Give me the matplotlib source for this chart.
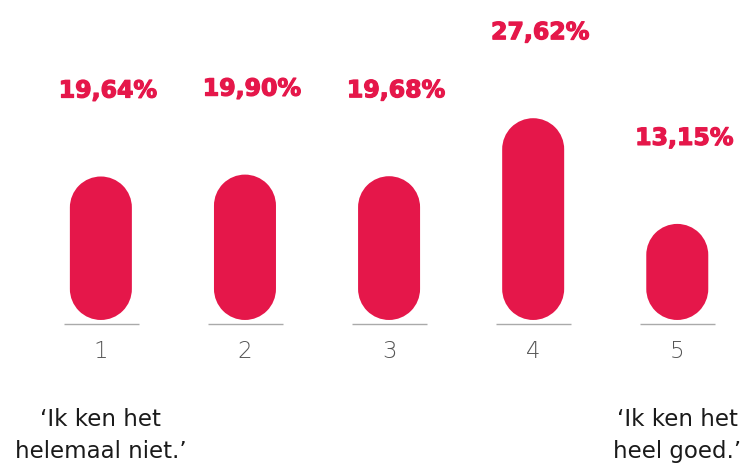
import numpy as np
import matplotlib.pyplot as plt
import matplotlib.patheffects as pe
from matplotlib.path import Path
from matplotlib.patches import PathPatch

# Datos de la encuesta (porcentaje por puntuación)
categorias = ['1', '2', '3', '4', '5']
porcentajes = [19.64, 19.90, 19.68, 27.62, 13.15]
etiquetas = ['19,64%', '19,90%', '19,68%', '27,62%', '13,15%']
texto_izquierda = ['‘Ik ken het', 'helemaal niet.’']
texto_derecha = ['‘Ik ken het', 'heel goed.’']

rojo = '#E5174A'

# Crear la figura y unos ejes que ocupan todo el lienzo
fig = plt.figure(figsize=(7.45, 4.69), dpi=100)
ax = fig.add_axes([0, 0, 1, 1])
x_min, x_max = -0.70, 4.47
y_min, y_max = -20.4, 43.8
ax.set_xlim(x_min, x_max)
ax.set_ylim(y_min, y_max)
ax.axis('off')

# Pixeles por unidad en cada eje (para que los extremos sean circulares)
px_x = 745 / (x_max - x_min)
px_y = 469 / (y_max - y_min)
radio_px = 31
rx = radio_px / px_x
ry = radio_px / px_y


def barra_redondeada(xc, alto):
    # Semicírculo superior + semicírculo inferior unidos por rectas
    arriba = Path.arc(0, 180)
    abajo = Path.arc(180, 360)
    v_arriba = arriba.vertices * [rx, ry] + [xc, alto - ry]
    v_abajo = abajo.vertices * [rx, ry] + [xc, ry]
    c_abajo = abajo.codes.copy()
    c_abajo[0] = Path.LINETO
    vertices = np.vstack([v_arriba, v_abajo, v_arriba[:1]])
    codigos = np.concatenate([arriba.codes, c_abajo, [Path.CLOSEPOLY]])
    return Path(vertices, codigos)


# Trazo extra para engrosar las etiquetas
grueso = [pe.withStroke(linewidth=0.9, foreground=rojo)]

for i, valor in enumerate(porcentajes):
    # Barra
    ax.add_patch(PathPatch(barra_redondeada(i, valor), facecolor=rojo,
                           edgecolor='none'))

    # Etiqueta del valor
    ax.text(i + 7 / px_x, valor + 86 / px_y, etiquetas[i], ha='center',
            va='center', color=rojo, fontsize=17, fontweight='bold',
            family='DejaVu Sans', path_effects=grueso)

    # Línea de base gris
    ax.hlines(-4 / px_y, i - 37 / px_x, i + 38 / px_x, color='#aaaaaa', lw=1)

    # Número de la categoría
    ax.text(i, -32 / px_y, categorias[i], ha='center', va='center',
            color='#555555', fontsize=16.5, fontweight=200, family='DejaVu Sans')

# Textos explicativos de los extremos
for n, linea in enumerate(texto_izquierda):
    ax.text(0, -(106 + 32 * n) / px_y, linea, ha='center', va='baseline',
            color='#1a1a1a', fontsize=16.5, family='DejaVu Sans')
for n, linea in enumerate(texto_derecha):
    ax.text(4, -(106 + 32 * n) / px_y, linea, ha='center', va='baseline',
            color='#1a1a1a', fontsize=16.5, family='DejaVu Sans')

plt.savefig('out.png', dpi=100)
plt.close()
